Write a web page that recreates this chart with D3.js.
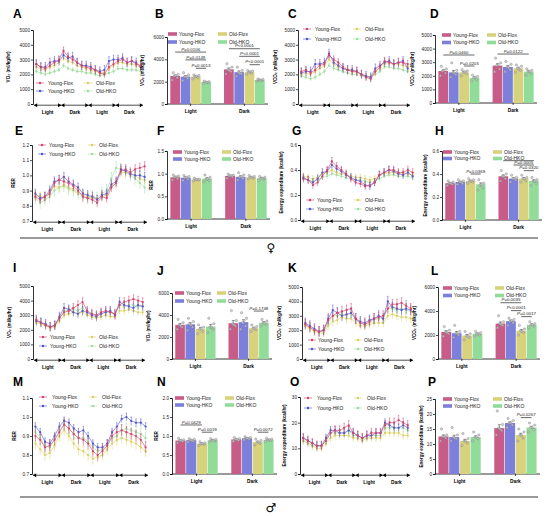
<!DOCTYPE html>
<html>
<head>
<meta charset="utf-8">
<script src="https://cdn.jsdelivr.net/npm/d3@7"></script>
<style>
body { margin: 0; background: #fff; }
text { font-family: "Liberation Sans", Arial, sans-serif; }
</style>
</head>
<body>
<svg id="fig" width="550" height="516"></svg>
<script>
// groups and colours
const groups = ["Young-Flox", "Young-HKO", "Old-Flox", "Old-HKO"];
const lineColors = ["#d2416e", "#4e53cf", "#d8cf5c", "#9ddc9c"];
const barColors = ["#c75c88", "#7c80db", "#d8d27c", "#90dc98"];
const phases = ["Light", "Dark", "Light", "Dark"];
const barPhases = ["Light", "Dark"];
const hours = [1, 3, 5, 7, 9, 11, 13, 15, 17, 19, 21, 23, 25, 27, 29, 31, 33, 35, 37, 39, 41, 43, 45, 47];

// ---- time courses (female) ----
const A_series = [
  [2700, 2500, 2400, 2600, 2800, 3000, 3600, 3200, 3000, 2800, 2600, 2500, 2400, 2300, 2100, 2000, 2500, 2700, 2900, 3000, 2800, 2900, 2700, 2600],
  [2700, 2500, 2500, 2800, 2900, 2900, 3300, 3100, 3200, 2800, 2600, 2600, 2500, 2300, 2200, 2300, 2900, 3000, 3000, 3100, 2800, 2900, 2800, 2500],
  [2500, 2400, 2300, 2500, 2600, 2800, 3100, 2900, 2800, 2600, 2500, 2400, 2300, 2200, 2100, 2100, 2400, 2600, 2800, 2800, 2700, 2700, 2600, 2500],
  [2200, 2100, 2000, 2100, 2200, 2300, 2600, 2400, 2300, 2200, 2200, 2100, 2100, 2000, 1900, 2000, 2100, 2200, 2400, 2400, 2300, 2300, 2300, 2200]
];
const A_err = [250, 300, 200, 150];

const C_series = [
  [2200, 2300, 2100, 2300, 2600, 2700, 3300, 3000, 2800, 2500, 2300, 2200, 2200, 2000, 1800, 1700, 2200, 2500, 2900, 2800, 2700, 2800, 2800, 2700],
  [2100, 2200, 2200, 2700, 2700, 2800, 3400, 2800, 2600, 2400, 2300, 2300, 2200, 2000, 1900, 1800, 2400, 2600, 2800, 2900, 2700, 2800, 2900, 2400],
  [2000, 2100, 2000, 2200, 2400, 2600, 3000, 2700, 2500, 2400, 2300, 2200, 2100, 2000, 1900, 1800, 2200, 2400, 2700, 2800, 2700, 2700, 2600, 2500],
  [1900, 1800, 1700, 1800, 2000, 2200, 2600, 2400, 2300, 2200, 2100, 2000, 2000, 1900, 1800, 1800, 2000, 2200, 2500, 2500, 2400, 2400, 2300, 2200]
];
const C_err = [250, 300, 200, 150];

const E_series = [
  [0.86, 0.84, 0.86, 0.88, 0.95, 0.97, 0.96, 0.95, 0.93, 0.90, 0.86, 0.85, 0.84, 0.82, 0.86, 0.85, 0.92, 0.95, 1.03, 1.04, 1.02, 1.04, 1.05, 1.06],
  [0.88, 0.85, 0.86, 0.90, 0.96, 0.97, 0.99, 0.96, 0.94, 0.92, 0.88, 0.87, 0.86, 0.84, 0.87, 0.88, 0.94, 0.96, 1.04, 1.03, 1.01, 1.00, 1.00, 0.99],
  [0.87, 0.86, 0.85, 0.88, 0.93, 0.92, 0.94, 0.92, 0.91, 0.89, 0.87, 0.86, 0.85, 0.84, 0.86, 0.87, 0.93, 0.95, 1.02, 1.02, 1.01, 1.00, 0.98, 0.97],
  [0.85, 0.82, 0.84, 0.86, 0.90, 0.92, 0.93, 0.91, 0.90, 0.88, 0.86, 0.85, 0.86, 0.85, 0.88, 0.90, 0.98, 1.05, 1.04, 1.02, 1.00, 0.98, 0.95, 0.92]
];
const E_err = [0.03, 0.03, 0.03, 0.04];

const G_series = [
  [0.33, 0.32, 0.28, 0.30, 0.35, 0.40, 0.47, 0.43, 0.40, 0.37, 0.33, 0.30, 0.29, 0.27, 0.28, 0.30, 0.36, 0.38, 0.40, 0.40, 0.38, 0.38, 0.40, 0.38],
  [0.34, 0.32, 0.30, 0.33, 0.38, 0.39, 0.44, 0.41, 0.39, 0.36, 0.34, 0.32, 0.31, 0.28, 0.27, 0.30, 0.36, 0.38, 0.40, 0.39, 0.37, 0.36, 0.38, 0.35],
  [0.35, 0.34, 0.33, 0.34, 0.37, 0.38, 0.40, 0.38, 0.37, 0.36, 0.35, 0.34, 0.34, 0.33, 0.32, 0.33, 0.36, 0.37, 0.38, 0.38, 0.37, 0.37, 0.37, 0.36],
  [0.33, 0.32, 0.31, 0.32, 0.34, 0.35, 0.37, 0.36, 0.35, 0.34, 0.33, 0.32, 0.32, 0.31, 0.30, 0.31, 0.33, 0.35, 0.36, 0.36, 0.35, 0.35, 0.35, 0.34]
];
const G_err = [0.03, 0.03, 0.025, 0.02];

// ---- time courses (male) ----
const I_series = [
  [2700, 2500, 2300, 2200, 2300, 2800, 3200, 3300, 3500, 3700, 3900, 3300, 3100, 3000, 3200, 3300, 3200, 3100, 3700, 3900, 4000, 4100, 4000, 3900],
  [2600, 2500, 2400, 2200, 2300, 2900, 3500, 3400, 3200, 3100, 3300, 3200, 3000, 2900, 3100, 3200, 3300, 3000, 3900, 3700, 3600, 3500, 3700, 3600],
  [2500, 2400, 2300, 2100, 2200, 2600, 3000, 3100, 3200, 3100, 3200, 3000, 2900, 2800, 2900, 3000, 2900, 2900, 3300, 3300, 3400, 3300, 3200, 3200],
  [2600, 2500, 2300, 2200, 2300, 2800, 3300, 3300, 3400, 3300, 3500, 3200, 3100, 3000, 3100, 3200, 3200, 3100, 3700, 3600, 3700, 3700, 3600, 3600]
];
const I_err = [300, 300, 250, 250];

const K_series = [
  [2400, 2200, 2000, 1900, 2000, 2700, 3000, 3200, 3300, 3400, 3500, 2800, 2500, 2400, 2600, 2800, 2900, 3000, 3500, 3800, 3800, 3900, 3700, 3500],
  [2500, 2300, 2100, 1900, 2000, 2800, 3400, 3200, 3000, 3100, 3200, 2800, 2600, 2500, 2700, 2800, 3000, 2800, 4000, 3600, 3500, 3400, 3500, 3400],
  [2300, 2100, 1900, 1800, 1800, 2300, 2600, 2700, 2900, 2800, 2800, 2500, 2300, 2300, 2400, 2500, 2500, 2500, 3000, 3100, 3000, 2900, 2900, 2800],
  [2400, 2200, 2000, 1900, 1900, 2500, 3000, 3000, 3100, 3000, 3200, 2700, 2500, 2400, 2500, 2700, 2800, 2800, 3500, 3500, 3400, 3500, 3400, 3300]
];
const K_err = [350, 350, 300, 300];

const M_series = [
  [0.90, 0.88, 0.84, 0.85, 0.88, 0.92, 0.96, 0.94, 0.91, 0.89, 0.88, 0.86, 0.82, 0.80, 0.82, 0.85, 0.90, 0.92, 0.93, 0.92, 0.91, 0.90, 0.88, 0.84],
  [0.95, 0.92, 0.87, 0.86, 0.90, 0.95, 0.98, 0.97, 0.94, 0.92, 0.93, 0.90, 0.86, 0.84, 0.84, 0.86, 0.92, 0.95, 0.99, 1.00, 0.98, 0.97, 0.97, 0.95],
  [0.86, 0.83, 0.80, 0.81, 0.85, 0.90, 0.93, 0.90, 0.86, 0.83, 0.82, 0.80, 0.78, 0.79, 0.80, 0.83, 0.86, 0.88, 0.89, 0.88, 0.87, 0.86, 0.84, 0.82],
  [0.92, 0.89, 0.85, 0.84, 0.88, 0.93, 0.96, 0.94, 0.91, 0.89, 0.89, 0.87, 0.84, 0.82, 0.83, 0.85, 0.89, 0.90, 0.93, 0.94, 0.93, 0.92, 0.91, 0.89]
];
const M_err = [0.03, 0.02, 0.03, 0.03];

const O_series = [
  [14, 13, 12, 11, 11, 13, 16, 17, 17, 18, 19, 16, 15, 14, 15, 16, 16, 16, 19, 20, 20, 21, 20, 19],
  [14, 13, 12, 11, 11, 14, 17, 17, 16, 16, 17, 16, 15, 14, 15, 15, 16, 16, 20, 19, 18, 18, 19, 18],
  [13, 12, 11, 10, 10, 12, 14, 15, 15, 15, 15, 14, 14, 13, 14, 14, 14, 14, 16, 16, 16, 16, 15, 15],
  [13, 12, 11, 11, 11, 13, 16, 16, 16, 16, 17, 15, 15, 14, 14, 15, 15, 15, 18, 18, 18, 18, 18, 17]
];
const O_err = [1.8, 1.5, 1.5, 1.5];

// ---- bar means [Light x4, Dark x4] and individual animals ----
const B_means = [[2500, 2450, 2450, 1950], [3100, 2850, 2850, 2150]];
const B_dots = [
  [[2150, 2350, 2500, 2650, 2800, 2550], [2100, 2300, 2450, 2600, 2800, 2450], [2250, 2350, 2450, 2550, 2600, 2500], [1850, 1900, 1950, 2000, 2050, 1950]],
  [[2700, 2900, 3100, 3300, 3600, 3000], [2500, 2700, 2850, 3000, 3300, 2750], [2650, 2750, 2850, 2950, 3000, 2900], [2050, 2100, 2150, 2200, 2250, 2150]]
];
const B_pvals = [
  { g: 0, a: 0, b: 3, v: 4650, t: "P=0.0106" }, { g: 0, a: 1, b: 3, v: 3950, t: "P=0.0149" }, { g: 0, a: 2, b: 3, v: 3200, t: "P=0.0013" },
  { g: 1, a: 0, b: 3, v: 4950, t: "P<0.0001" }, { g: 1, a: 1, b: 3, v: 4270, t: "P<0.0001" }, { g: 1, a: 2, b: 3, v: 3520, t: "P<0.0001" }
];

const D_means = [[2350, 2250, 2250, 1850], [2750, 2650, 2550, 2300]];
const D_dots = [
  [[2000, 2200, 2350, 2500, 2700, 2400], [1900, 2100, 2250, 2400, 2950, 2200], [2000, 2150, 2250, 2350, 2450, 2300], [1600, 1700, 1850, 1950, 2050, 1900]],
  [[2300, 2500, 2750, 2950, 3300, 2800], [2300, 2450, 2650, 2850, 3050, 2600], [2250, 2400, 2550, 2700, 2800, 2500], [2050, 2150, 2300, 2400, 2500, 2350]]
];
const D_pvals = [
  { g: 0, a: 0, b: 3, v: 3530, t: "P=0.0460" }, { g: 0, a: 2, b: 3, v: 2720, t: "P=0.0203" },
  { g: 1, a: 0, b: 3, v: 3600, t: "P=0.0122" }
];

const F_means = [[0.92, 0.91, 0.87, 0.89], [0.95, 0.93, 0.92, 0.90]];
const F_dots = [
  [[0.86, 0.89, 0.92, 0.95, 0.97, 0.93], [0.85, 0.88, 0.91, 0.94, 0.96, 0.92], [0.84, 0.86, 0.87, 0.88, 0.90, 0.87], [0.82, 0.85, 0.88, 0.92, 0.97, 0.89]],
  [[0.90, 0.93, 0.95, 0.97, 0.99, 0.96], [0.86, 0.90, 0.93, 0.97, 1.02, 0.94], [0.88, 0.90, 0.92, 0.94, 0.96, 0.92], [0.85, 0.88, 0.90, 0.92, 0.94, 0.90]]
];
const F_pvals = [];

const H_means = [[0.32, 0.33, 0.34, 0.31], [0.38, 0.36, 0.36, 0.34]];
const H_dots = [
  [[0.30, 0.31, 0.32, 0.33, 0.34, 0.32], [0.31, 0.32, 0.33, 0.34, 0.35, 0.33], [0.32, 0.33, 0.34, 0.35, 0.36, 0.34], [0.26, 0.28, 0.30, 0.32, 0.35, 0.31]],
  [[0.34, 0.36, 0.38, 0.40, 0.43, 0.38], [0.33, 0.35, 0.36, 0.37, 0.39, 0.36], [0.33, 0.34, 0.36, 0.37, 0.39, 0.36], [0.30, 0.32, 0.34, 0.35, 0.37, 0.34]]
];
const H_pvals = [
  { g: 0, a: 2, b: 3, v: 0.40, t: "P=0.0369" },
  { g: 1, a: 0, b: 3, v: 0.516, t: "" }, { g: 1, a: 1, b: 3, v: 0.478, t: "P=0.0005" }, { g: 1, a: 2, b: 3, v: 0.429, t: "P=0.0320" }
];

const J_means = [[3100, 3150, 2750, 2950], [3250, 3350, 2800, 3300]];
const J_dots = [
  [[2700, 2900, 3100, 3300, 3600, 3000], [2600, 2900, 3200, 3400, 3700, 3100], [2300, 2500, 2700, 2900, 3100, 2800], [2400, 2700, 2900, 3200, 3700, 2900]],
  [[2700, 3000, 3200, 3500, 4400, 3100], [2700, 3000, 3300, 3700, 4200, 3500], [2500, 2650, 2800, 2950, 3100, 2800], [3000, 3150, 3300, 3450, 3600, 3250]]
];
const J_pvals = [{ g: 1, a: 2, b: 3, v: 4360, t: "P=0.1748" }];

const L_means = [[2250, 2150, 1950, 2100], [2950, 3150, 2350, 2850]];
const L_dots = [
  [[1900, 2100, 2250, 2400, 2700, 2200], [1800, 2000, 2150, 2300, 2800, 2100], [1600, 1800, 1950, 2100, 2300, 1900], [1900, 2000, 2100, 2200, 2300, 2100]],
  [[2600, 2800, 2950, 3100, 3600, 2900], [2800, 3000, 3150, 3300, 3400, 3200], [2000, 2200, 2350, 2500, 2800, 2300], [2600, 2750, 2850, 2950, 3100, 2850]]
];
const L_pvals = [
  { g: 1, a: 0, b: 2, v: 4690, t: "P=0.0035" }, { g: 1, a: 1, b: 2, v: 4030, t: "P<0.0001" }, { g: 1, a: 2, b: 3, v: 3530, t: "P=0.0017" }
];

const N_means = [[0.88, 0.89, 0.80, 0.89], [0.91, 0.94, 0.84, 0.90]];
const N_dots = [
  [[0.82, 0.86, 0.88, 0.90, 0.94, 0.88], [0.84, 0.87, 0.89, 0.91, 0.93, 0.89], [0.75, 0.78, 0.80, 0.82, 0.85, 0.80], [0.85, 0.87, 0.89, 0.91, 0.93, 0.89]],
  [[0.86, 0.89, 0.91, 0.93, 0.96, 0.91], [0.90, 0.92, 0.94, 0.96, 0.98, 0.94], [0.76, 0.80, 0.84, 0.88, 0.92, 0.84], [0.86, 0.88, 0.90, 0.92, 0.94, 0.90]]
];
const N_pvals = [
  { g: 0, a: 0, b: 2, v: 1.29, t: "P=0.0429" }, { g: 0, a: 2, b: 3, v: 1.10, t: "P=0.0019" },
  { g: 1, a: 2, b: 3, v: 1.10, t: "P=0.0072" }
];

const P_means = [[12.5, 12.3, 11.0, 12.3], [15.3, 17.0, 13.0, 15.5]];
const P_dots = [
  [[11, 12, 12.5, 13, 15, 12.5], [11, 11.8, 12.3, 13, 15.5, 12], [9.5, 10.3, 11, 11.8, 13.5, 11], [11, 11.8, 12.3, 13, 14, 12.3]],
  [[13, 14.5, 15.3, 16.5, 21, 15], [15.5, 16.3, 17, 17.8, 18.5, 17], [11, 12, 13, 14, 15, 13], [14, 14.8, 15.5, 16.3, 17, 15.5]]
];
const P_pvals = [{ g: 1, a: 2, b: 3, v: 18.8, t: "P=0.0267" }];

// axis titles and ticks
const VO2 = "VO\u2082 (ml/kg/hr)";
const VCO2 = "VCO\u2082 (ml/kg/hr)";
const EE = "Energy expenditure (kcal/hr)";
const ticks5000 = [0, 1000, 2000, 3000, 4000, 5000];
const ticks6000 = [0, 2000, 4000, 6000];

const svg = d3.select("#fig");
svg.append("rect").attr("width", 550).attr("height", 516).attr("fill", "#fff");

function yAxis(g, y, p) {
    const ax = g.append("g")
        .attr("transform", `translate(${p.x0},0)`)
        .call(d3.axisLeft(y).tickValues(p.ticks).tickSize(2).tickPadding(1).tickFormat(p.fmt || d3.format("d")));
    ax.select(".domain").attr("stroke", "#000").attr("stroke-width", 0.8);
    ax.selectAll(".tick line").attr("stroke", "#000").attr("stroke-width", 0.7);
    ax.selectAll("text").style("font-size", "4.7px").attr("fill", "#222");

    g.append("text")
        .attr("transform", `translate(${p.ylx},${(p.yb + p.yt) / 2}) rotate(-90)`)
        .attr("text-anchor", "middle")
        .style("font-size", "4.6px").style("font-weight", "bold")
        .text(p.ylabel);

    g.append("text").attr("x", p.lab[0]).attr("y", p.lab[1])
        .style("font-size", "12px").style("font-weight", "bold").text(p.id);
}

function drawLine(p) {
    const g = svg.append("g");
    const x = d3.scaleLinear().domain([0, 48]).range([p.x0 + 1, p.x1]);
    const y = d3.scaleLinear().domain(p.dom).range([p.yb, p.yt]);
    yAxis(g, y, p);

    // light / dark bars under the axis
    const yc = p.yb + 1.2;
    phases.forEach((ph, j) => {
        const xs = x(j * 12), xe = x(j * 12 + 12);
        g.append("line").attr("x1", xs).attr("x2", xe).attr("y1", yc).attr("y2", yc)
            .attr("stroke", "#000").attr("stroke-width", 0.7);
        g.append("path").attr("d", `M${xs},${yc}L${xs + 3.2},${yc - 2}L${xs + 3.2},${yc + 2}Z`).attr("fill", "#000");
        g.append("path").attr("d", `M${xe},${yc}L${xe - 3.2},${yc - 2}L${xe - 3.2},${yc + 2}Z`).attr("fill", "#000");
        g.append("text").attr("x", (xs + xe) / 2).attr("y", p.yb + 9.5)
            .attr("text-anchor", "middle").style("font-size", "4.8px").style("font-weight", "bold").text(ph);
    });

    const line = d3.line().x((d, i) => x(hours[i])).y(d => y(d));
    for (let k = 3; k >= 0; k--) {
        const vals = p.series[k], e = p.err[k], c = lineColors[k];
        const s = g.append("g");
        vals.forEach((v, i) => {
            const xi = x(hours[i]);
            s.append("line").attr("x1", xi).attr("x2", xi).attr("y1", y(v - e)).attr("y2", y(v + e))
                .attr("stroke", c).attr("stroke-width", 0.5);
            s.append("line").attr("x1", xi - 0.7).attr("x2", xi + 0.7).attr("y1", y(v + e)).attr("y2", y(v + e))
                .attr("stroke", c).attr("stroke-width", 0.5);
        });
        s.append("path").datum(vals).attr("d", line).attr("fill", "none")
            .attr("stroke", c).attr("stroke-width", 0.6);
        s.selectAll("circle").data(vals).join("circle")
            .attr("cx", (d, i) => x(hours[i])).attr("cy", d => y(d)).attr("r", 1.1).attr("fill", c);
    }

    // legend
    groups.forEach((name, i) => {
        const col = Math.floor(i / 2), row = i % 2;
        const mx = p.leg.mx + col * p.leg.dcol, ly = p.leg.y + row * p.leg.drow;
        g.append("line").attr("x1", mx - 4).attr("x2", mx + 4).attr("y1", ly).attr("y2", ly)
            .attr("stroke", lineColors[i]).attr("stroke-width", 0.6);
        g.append("circle").attr("cx", mx).attr("cy", ly).attr("r", 1.2).attr("fill", lineColors[i]);
        g.append("text").attr("x", p.leg.tx + col * p.leg.dcol).attr("y", ly + 1.7)
            .style("font-size", "5px").attr("fill", "#222").text(name);
    });
}

const jitter = [-0.3, 0.22, -0.08, 0.32, -0.2, 0.06];

function drawBar(p) {
    const g = svg.append("g");
    const x = d3.scaleBand().domain(barPhases).range([p.x0, p.x1]).paddingInner(0.22).paddingOuter(0.05);
    const xi = d3.scaleBand().domain(d3.range(4)).range([0, x.bandwidth()]).padding(0.06);
    const y = d3.scaleLinear().domain(p.dom).range([p.yb, p.yt]);
    yAxis(g, y, p);

    // x axis
    g.append("line").attr("x1", p.x0).attr("x2", p.x1).attr("y1", p.yb).attr("y2", p.yb)
        .attr("stroke", "#000").attr("stroke-width", 0.8);
    barPhases.forEach(ph => {
        const cx = x(ph) + x.bandwidth() / 2;
        g.append("line").attr("x1", cx).attr("x2", cx).attr("y1", p.yb).attr("y2", p.yb + 2)
            .attr("stroke", "#000").attr("stroke-width", 0.7);
        g.append("text").attr("x", cx).attr("y", p.yb + 8.5).attr("text-anchor", "middle")
            .style("font-size", "4.8px").style("font-weight", "bold").text(ph);
    });

    const cxOf = (gi, k) => x(barPhases[gi]) + xi(k) + xi.bandwidth() / 2;

    p.means.forEach((ms, gi) => {
        ms.forEach((m, k) => {
            const bx = x(barPhases[gi]) + xi(k);
            g.append("rect").attr("x", bx).attr("y", y(m)).attr("width", xi.bandwidth())
                .attr("height", p.yb - y(m)).attr("fill", barColors[k]);
            const dots = p.dots[gi][k];
            const sem = d3.deviation(dots) / Math.sqrt(dots.length);
            const cx = cxOf(gi, k);
            g.append("line").attr("x1", cx).attr("x2", cx).attr("y1", y(m)).attr("y2", y(m + sem))
                .attr("stroke", "#333").attr("stroke-width", 0.5);
            g.append("line").attr("x1", cx - 1.5).attr("x2", cx + 1.5).attr("y1", y(m + sem)).attr("y2", y(m + sem))
                .attr("stroke", "#333").attr("stroke-width", 0.5);
            g.selectAll(null).data(dots).join("circle")
                .attr("cx", (d, j) => cx + jitter[j] * xi.bandwidth())
                .attr("cy", d => y(d)).attr("r", 1.2)
                .attr("fill", "#c8c8c8").attr("fill-opacity", 0.8)
                .attr("stroke", "#666").attr("stroke-width", 0.3);
        });
    });

    // significance brackets
    p.pvals.forEach(pv => {
        const x1 = cxOf(pv.g, pv.a), x2 = cxOf(pv.g, pv.b), yy = y(pv.v);
        g.append("line").attr("x1", x1).attr("x2", x2).attr("y1", yy).attr("y2", yy)
            .attr("stroke", "#000").attr("stroke-width", 0.6);
        if (pv.t) {
            const t = g.append("text").attr("x", (x1 + x2) / 2).attr("y", yy - 1.3)
                .attr("text-anchor", "middle").style("font-size", "4.4px").attr("fill", "#222");
            t.append("tspan").style("font-style", "italic").text(pv.t[0]);
            t.append("tspan").text(pv.t.slice(1));
        }
    });

    // legend
    groups.forEach((name, i) => {
        const col = Math.floor(i / 2), row = i % 2;
        const sx = p.leg.sx + col * p.leg.dcol, ly = p.leg.y + row * p.leg.drow;
        g.append("rect").attr("x", sx).attr("y", ly - 1.8).attr("width", 9).attr("height", 3.6).attr("fill", barColors[i]);
        g.append("text").attr("x", sx + 11).attr("y", ly + 1.7)
            .style("font-size", "5px").attr("fill", "#222").text(name);
    });
}

// ---- panel layout ----
const f1 = d3.format(".1f");
drawLine({ id: "A", x0: 33, x1: 143, yb: 104, yt: 30, dom: [0, 5000], ticks: ticks5000, ylabel: VO2, ylx: 10, lab: [13, 18],
    series: A_series, err: A_err, leg: { mx: 40, tx: 48, y: 83, dcol: 48, drow: 8 } });
drawLine({ id: "C", x0: 298, x1: 410, yb: 104, yt: 30, dom: [0, 5000], ticks: ticks5000, ylabel: VCO2, ylx: 277, lab: [288, 18],
    series: C_series, err: C_err, leg: { mx: 307, tx: 315, y: 29, dcol: 50, drow: 10 } });
drawLine({ id: "E", x0: 32, x1: 147, yb: 221, yt: 145, dom: [0.7, 1.2], ticks: [0.7, 0.8, 0.9, 1.0, 1.1, 1.2], fmt: f1, ylabel: "RER", ylx: 15, lab: [15, 135],
    series: E_series, err: E_err, leg: { mx: 42, tx: 49, y: 145, dcol: 50, drow: 9 } });
drawLine({ id: "G", x0: 300, x1: 415, yb: 220, yt: 145, dom: [0, 0.6], ticks: [0, 0.2, 0.4, 0.6], fmt: f1, ylabel: EE, ylx: 283, lab: [292, 135],
    series: G_series, err: G_err, leg: { mx: 310, tx: 317, y: 200, dcol: 48, drow: 9 } });
drawLine({ id: "I", x0: 33, x1: 145, yb: 359, yt: 286, dom: [0, 5000], ticks: ticks5000, ylabel: VO2, ylx: 11, lab: [13, 272],
    series: I_series, err: I_err, leg: { mx: 43, tx: 50, y: 337, dcol: 49, drow: 9 } });
drawLine({ id: "K", x0: 302, x1: 413, yb: 359, yt: 287, dom: [0, 5000], ticks: ticks5000, ylabel: VCO2, ylx: 281, lab: [288, 272],
    series: K_series, err: K_err, leg: { mx: 312, tx: 318, y: 340, dcol: 46, drow: 9 } });
drawLine({ id: "M", x0: 32, x1: 148, yb: 474, yt: 398, dom: [0.7, 1.1], ticks: [0.7, 0.8, 0.9, 1.0, 1.1], fmt: f1, ylabel: "RER", ylx: 16, lab: [13, 386],
    series: M_series, err: M_err, leg: { mx: 43, tx: 52, y: 397, dcol: 50, drow: 9 } });
drawLine({ id: "O", x0: 300, x1: 410, yb: 474, yt: 397, dom: [0, 30], ticks: [0, 10, 20, 30], ylabel: EE, ylx: 286, lab: [290, 386],
    series: O_series, err: O_err, leg: { mx: 308, tx: 317, y: 398, dcol: 50, drow: 10 } });

drawBar({ id: "B", x0: 167, x1: 268, yb: 104, yt: 37, dom: [0, 6000], ticks: ticks6000, ylabel: VO2, ylx: 144, lab: [155, 18],
    means: B_means, dots: B_dots, pvals: B_pvals, leg: { sx: 168, y: 34, dcol: 50, drow: 8 } });
drawBar({ id: "D", x0: 435, x1: 537, yb: 103, yt: 35, dom: [0, 5000], ticks: ticks5000, ylabel: VCO2, ylx: 414, lab: [430, 18],
    means: D_means, dots: D_dots, pvals: D_pvals, leg: { sx: 442, y: 35, dcol: 45, drow: 7.5 } });
drawBar({ id: "F", x0: 167, x1: 270, yb: 219, yt: 151, dom: [0, 1.5], ticks: [0, 0.5, 1.0, 1.5], fmt: f1, ylabel: "RER", ylx: 153, lab: [157, 135],
    means: F_means, dots: F_dots, pvals: F_pvals, leg: { sx: 173, y: 152, dcol: 49, drow: 7 } });
drawBar({ id: "H", x0: 442, x1: 542, yb: 220, yt: 151, dom: [0, 0.6], ticks: [0, 0.2, 0.4, 0.6], fmt: f1, ylabel: EE, ylx: 427, lab: [435, 135],
    means: H_means, dots: H_dots, pvals: H_pvals, leg: { sx: 443, y: 152, dcol: 50, drow: 6.5 } });
drawBar({ id: "J", x0: 172, x1: 272, yb: 359, yt: 293, dom: [0, 6000], ticks: ticks6000, ylabel: VO2, ylx: 150, lab: [157, 275],
    means: J_means, dots: J_dots, pvals: J_pvals, leg: { sx: 175, y: 293, dcol: 42, drow: 8 } });
drawBar({ id: "L", x0: 438, x1: 540, yb: 359, yt: 287, dom: [0, 6000], ticks: ticks6000, ylabel: VCO2, ylx: 416, lab: [431, 275],
    means: L_means, dots: L_dots, pvals: L_pvals, leg: { sx: 443, y: 288, dcol: 52, drow: 7.5 } });
drawBar({ id: "N", x0: 172, x1: 277, yb: 474, yt: 398, dom: [0, 2], ticks: [0, 0.5, 1.0, 1.5, 2.0], fmt: f1, ylabel: "RER", ylx: 158, lab: [157, 386],
    means: N_means, dots: N_dots, pvals: N_pvals, leg: { sx: 175, y: 398, dcol: 50, drow: 7 } });
drawBar({ id: "P", x0: 435, x1: 540, yb: 474, yt: 399, dom: [0, 25], ticks: [0, 5, 10, 15, 20, 25], ylabel: EE, ylx: 423, lab: [428, 386],
    means: P_means, dots: P_dots, pvals: P_pvals, leg: { sx: 443, y: 399, dcol: 50, drow: 7 } });

// sex separators
[[238, "\u2640", 252], [497, "\u2642", 512]].forEach(([ly, sym, sy]) => {
    svg.append("line").attr("x1", 20).attr("x2", 538).attr("y1", ly).attr("y2", ly)
        .attr("stroke", "#000").attr("stroke-width", 0.8);
    svg.append("text").attr("x", 271).attr("y", sy).attr("text-anchor", "middle")
        .style("font-family", "'DejaVu Sans', sans-serif")
        .style("font-size", "12px").text(sym);
});
</script>
</body>
</html>
